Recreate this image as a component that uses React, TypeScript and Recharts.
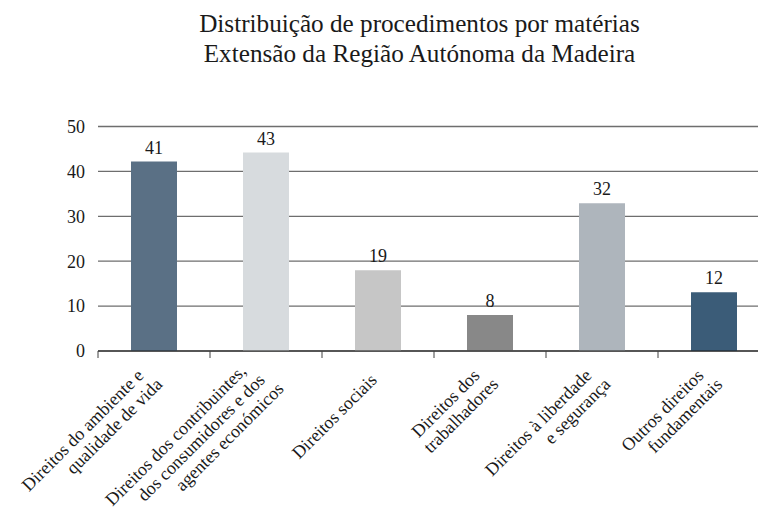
import React from "react";
import { BarChart, Bar, XAxis, YAxis, CartesianGrid, Cell, LabelList } from "recharts";

const categories = [
  "Direitos do ambiente e\nqualidade de vida",
  "Direitos dos contribuintes,\ndos consumidores e dos\nagentes económicos",
  "Direitos sociais",
  "Direitos dos\ntrabalhadores",
  "Direitos à liberdade\ne segurança",
  "Outros direitos\nfundamentais",
];
const barValues = [42.2, 44.2, 18.0, 8.0, 32.9, 13.1];
const valueLabels = ["41", "43", "19", "8", "32", "12"];
const barColors = ["#5a7085", "#d7dbde", "#c6c6c6", "#888888", "#aeb5bc", "#3b5c78"];
const yTicks = [0, 10, 20, 30, 40, 50];

const FONT = "Liberation Serif";
const CHART_W = 790;
const MARGIN = { top: 118.5, right: 28, left: 30, bottom: 13 };
const Y_W = 60;
const BAND = (CHART_W - MARGIN.left - MARGIN.right - Y_W) / categories.length;

const data = categories.map((c, i) => ({
  name: c,
  value: barValues[i],
  label: valueLabels[i],
}));

function XTick(props: any) {
  const { x, y, payload } = props;
  const lines = String(payload.value).split("\n");
  const k = lines.length;
  return (
    <g>
      <line x1={x - BAND / 2} x2={x - BAND / 2} y1={y} y2={y + 7} stroke="#404040" strokeWidth={1} />
      <g transform={`translate(${x},${y + 30}) rotate(-45)`}>
        <text textAnchor="end" fontFamily={FONT} fontSize={18} fill="#1a1a1a">
          {lines.map((l, i) => (
            <tspan key={i} x={(i - (k - 1) / 2) * 7} y={(i - (k - 1) / 2) * 19.5}>
              {l}
            </tspan>
          ))}
        </text>
      </g>
    </g>
  );
}

export default function App() {
  return (
    <div style={{ position: "relative", width: 758, height: 506, overflow: "hidden" }}>
      <div
        style={{
          position: "absolute",
          left: 111.5,
          top: 1,
          width: 600,
          textAlign: "center",
          fontFamily: FONT,
          fontSize: 25.2,
          lineHeight: "30px",
          color: "#1a1a1a",
        }}
      >
        <div>Distribuição de procedimentos por matérias</div>
        <div>Extensão da Região Autónoma da Madeira</div>
      </div>
      <BarChart width={CHART_W} height={506} data={data} margin={MARGIN}>
        <CartesianGrid vertical={false} stroke="#6e6e6e" strokeWidth={1.3} />
        <XAxis
          dataKey="name"
          type="category"
          interval={0}
          height={150}
          axisLine={{ stroke: "#1a1a1a", strokeWidth: 1 }}
          tickLine={false}
          tickSize={0}
          tickMargin={0}
          tick={<XTick />}
        />
        <YAxis
          domain={[0, 50]}
          ticks={yTicks}
          width={Y_W}
          axisLine={false}
          tickLine={false}
          tickSize={0}
          tickMargin={13}
          tick={{ fontFamily: FONT, fontSize: 18, fill: "#1a1a1a" }}
        />
        <Bar dataKey="value" barSize={46} isAnimationActive={false}>
          {data.map((d, i) => (
            <Cell key={i} fill={barColors[i]} />
          ))}
          <LabelList
            dataKey="label"
            position="top"
            offset={8}
            style={{ fontFamily: FONT, fontSize: 18, fill: "#1a1a1a" }}
          />
        </Bar>
      </BarChart>
    </div>
  );
}
